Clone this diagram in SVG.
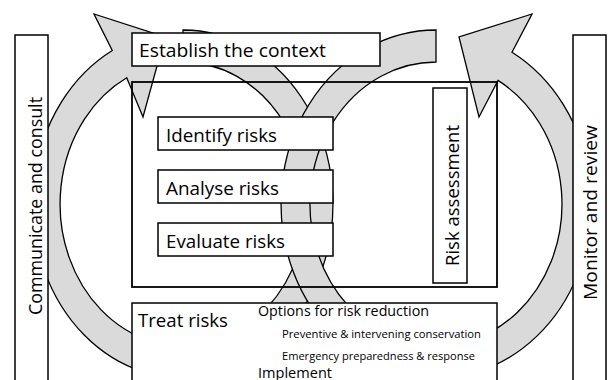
<svg xmlns="http://www.w3.org/2000/svg" width="609" height="380" viewBox="0 0 609 380">
<style>
.band{fill:#dadada;stroke:#000;stroke-width:1.3;stroke-linejoin:miter}
.box{fill:#fff;stroke:#000;stroke-width:1.5}
.frame{fill:none;stroke:#000;stroke-width:1.8}
text{font-family:"Open Sans","Liberation Sans",sans-serif;fill:#000}
.t{font-size:18.5px}
.m{font-size:14.5px}
.s{font-size:11.5px}
</style>
<rect width="609" height="380" fill="#fff"/>
<g id="connectors">
<path id="loop-left" class="band" d="M183,30 A150,174 0 1 1 112.3,50.5 L94,14 L165,37 L143,117 L126.7,77.8 A123,142 0 1 0 183,62 Z"/>
<path id="loop-right" class="band" d="M436,30 A155,174 0 1 0 512,52.3 L532,14 L459,37 L479,117 L498,80.4 A126,142 0 1 1 436,62 Z"/>
</g>
<g id="assessment-frame">
<rect class="frame" x="132" y="82" width="365" height="205"/>
</g>
<g id="communicate">
<rect class="box" x="15" y="35" width="33" height="360"/>
<text class="t" transform="translate(42,315) rotate(-90)" textLength="218" lengthAdjust="spacingAndGlyphs">Communicate and consult</text>
</g>
<g id="monitor">
<rect class="box" x="573" y="35" width="33" height="360"/>
<text class="t" transform="translate(597,300) rotate(-90)" textLength="175" lengthAdjust="spacingAndGlyphs">Monitor and review</text>
</g>
<g id="establish">
<rect class="box" x="132" y="33" width="248" height="33"/>
<text class="t" x="139" y="57" textLength="187" lengthAdjust="spacingAndGlyphs">Establish the context</text>
</g>
<g id="identify">
<rect class="box" x="158" y="117" width="175" height="33"/>
<text class="t" x="166" y="141.5" textLength="111" lengthAdjust="spacingAndGlyphs">Identify risks</text>
</g>
<g id="analyse">
<rect class="box" x="158" y="170" width="175" height="33"/>
<text class="t" x="166" y="194.5" textLength="113" lengthAdjust="spacingAndGlyphs">Analyse risks</text>
</g>
<g id="evaluate">
<rect class="box" x="158" y="223" width="175" height="33"/>
<text class="t" x="166" y="247.5" textLength="119" lengthAdjust="spacingAndGlyphs">Evaluate risks</text>
</g>
<g id="risk-assessment">
<rect class="box" x="433" y="88" width="34" height="195"/>
<text class="t" transform="translate(459,266) rotate(-90)" textLength="141" lengthAdjust="spacingAndGlyphs">Risk assessment</text>
</g>
<g id="treat">
<rect class="box" x="132" y="303" width="365" height="90"/>
<text class="t" x="138" y="327" textLength="90" lengthAdjust="spacingAndGlyphs">Treat risks</text>
<text class="m" x="258" y="316" textLength="171" lengthAdjust="spacingAndGlyphs">Options for risk reduction</text>
<text class="s" x="282" y="338" textLength="199" lengthAdjust="spacingAndGlyphs">Preventive &amp; intervening conservation</text>
<text class="s" x="282" y="360" textLength="193" lengthAdjust="spacingAndGlyphs">Emergency preparedness &amp; response</text>
<text class="m" x="258" y="378" textLength="74" lengthAdjust="spacingAndGlyphs">Implement</text>
</g>
</svg>
